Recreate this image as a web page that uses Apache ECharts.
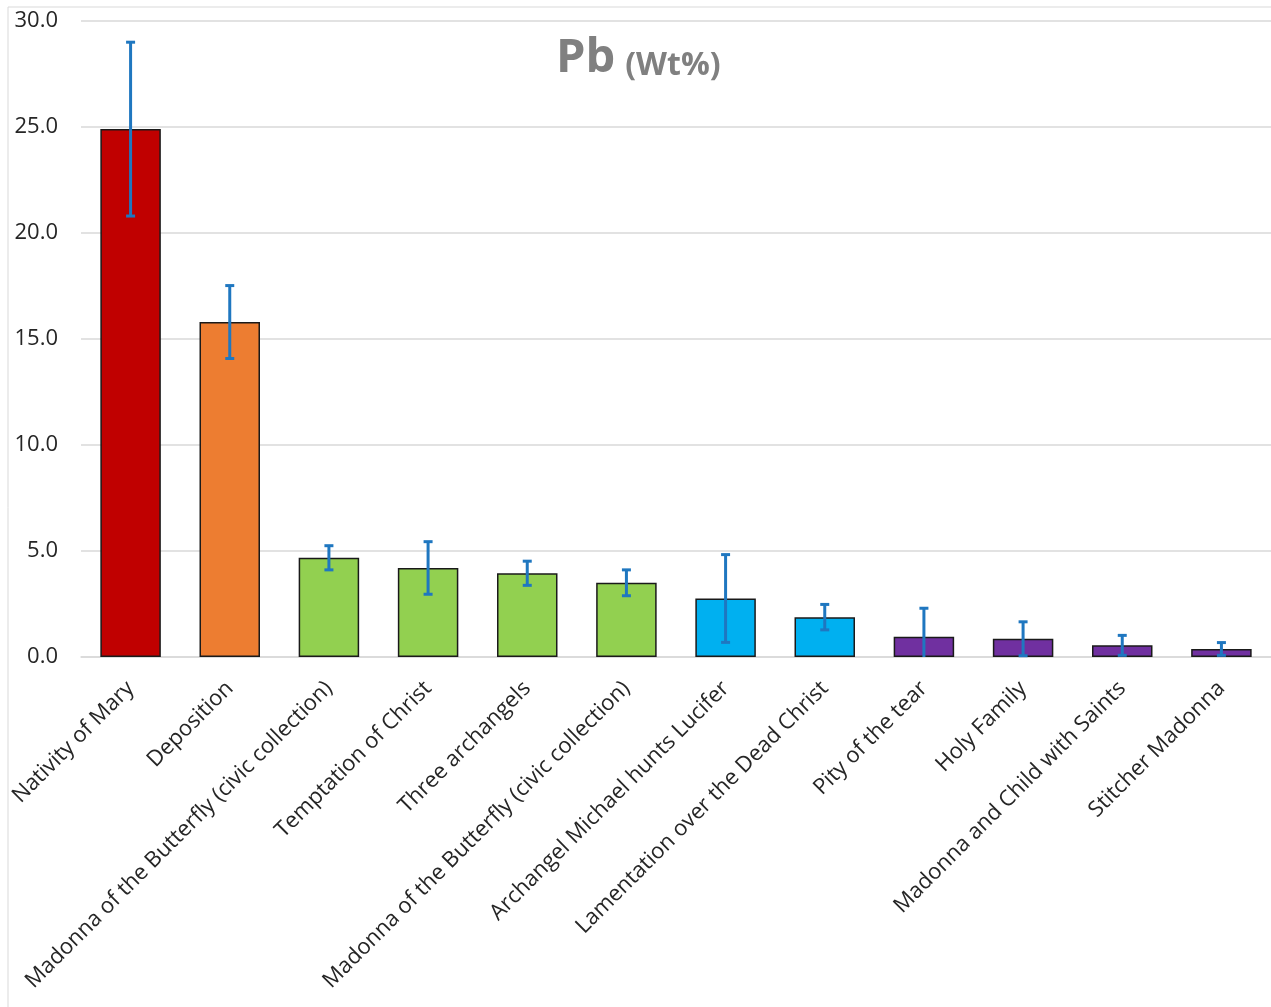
<!DOCTYPE html>
<html>
<head>
<meta charset="utf-8">
<script src="https://cdn.jsdelivr.net/npm/echarts@6/dist/echarts.min.js"></script>
<style>
  html, body { margin: 0; padding: 0; background: #fff; }
  #chart { width: 1271px; height: 1007px; }
</style>
</head>
<body>
<div id="chart"></div>
<script>
// Lead content (Wt%) per artwork, with standard deviations
const categories = [
  'Nativity of Mary',
  'Deposition',
  'Madonna of the Butterfly (civic collection)',
  'Temptation of Christ',
  'Three archangels',
  'Madonna of the Butterfly (civic collection)',
  'Archangel Michael hunts Lucifer',
  'Lamentation over the Dead Christ',
  'Pity of the tear',
  'Holy Family',
  'Madonna and Child with Saints',
  'Stitcher Madonna'
];
const pbValues = [24.9, 15.8, 4.68, 4.2, 3.95, 3.5, 2.76, 1.88, 0.95, 0.86, 0.55, 0.38];
const pbErrors = [4.1, 1.72, 0.57, 1.24, 0.57, 0.61, 2.07, 0.6, 1.35, 0.8, 0.47, 0.3];
const barColors = ['#C00000', '#ED7D31', '#92D050', '#92D050', '#92D050', '#92D050',
                   '#00B0F0', '#00B0F0', '#7030A0', '#7030A0', '#7030A0', '#7030A0'];
const yTicks = [0, 5, 10, 15, 20, 25, 30];

const FONT = 'Open Sans';
const chart = echarts.init(document.getElementById('chart'));

const errorData = pbValues.map((v, i) => [i, Math.max(0, v - pbErrors[i]), v + pbErrors[i]]);

chart.setOption({
  animation: false,
  graphic: [{
    type: 'rect',
    shape: { x: 8, y: 7, width: 1400, height: 1100 },
    style: { fill: 'none', stroke: '#D9D9D9', lineWidth: 1 },
    z: -10
  }],
  title: {
    text: '{a|Pb}  {b|(Wt%)}',
    left: 551,
    top: 30,
    textStyle: {
      rich: {
        a: { fontFamily: FONT, fontWeight: 'bold', fontSize: 47, color: '#808080' },
        b: { fontFamily: FONT, fontWeight: 'bold', fontSize: 32, color: '#808080', verticalAlign: 'bottom' }
      }
    }
  },
  grid: { left: 81, right: -1, top: 21, bottom: 350, containLabel: false },
  xAxis: {
    type: 'category',
    data: categories,
    axisLine: { lineStyle: { color: '#D9D9D9', width: 1.5 } },
    axisTick: { show: false },
    axisLabel: {
      interval: 0,
      rotate: 45,
      margin: 28,
      fontFamily: FONT,
      fontSize: 22,
      color: '#262626'
    }
  },
  yAxis: {
    type: 'value',
    min: yTicks[0],
    max: yTicks[yTicks.length - 1],
    interval: 5,
    axisLine: { show: false },
    axisTick: { show: false },
    splitLine: { lineStyle: { color: '#D9D9D9', width: 1.5 } },
    axisLabel: {
      margin: 23,
      fontFamily: FONT,
      fontSize: 22,
      color: '#262626',
      formatter: v => v.toFixed(1)
    }
  },
  series: [
    {
      type: 'bar',
      barWidth: '61%',
      data: pbValues.map((v, i) => ({
        value: v,
        itemStyle: { color: barColors[i], borderColor: '#1a1a1a', borderWidth: 1.5 }
      }))
    },
    {
      type: 'custom',
      data: errorData,
      z: 10,
      renderItem: (params, api) => {
        const x = api.value(0);
        const lo = api.coord([x, api.value(1)]);
        const hi = api.coord([x, api.value(2)]);
        const cap = 4.5;
        const style = { stroke: '#1F77C0', lineWidth: 3, fill: 'none' };
        const children = [
          { type: 'line', shape: { x1: hi[0], y1: hi[1], x2: lo[0], y2: lo[1] }, style }
        ];
        children.push({ type: 'line', shape: { x1: hi[0] - cap, y1: hi[1], x2: hi[0] + cap, y2: hi[1] }, style });
        if (api.value(1) > 0.02) {
          children.push({ type: 'line', shape: { x1: lo[0] - cap, y1: lo[1], x2: lo[0] + cap, y2: lo[1] }, style });
        }
        return { type: 'group', children };
      }
    }
  ]
});
</script>
</body>
</html>
